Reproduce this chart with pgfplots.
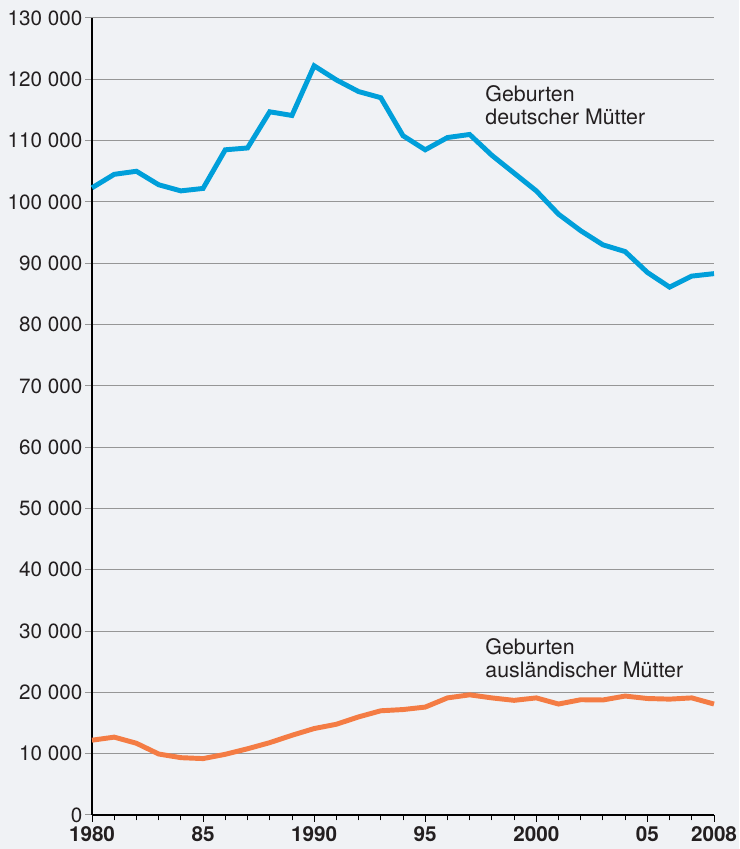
\documentclass[border=0pt]{standalone}
\usepackage{fontspec}
\setmainfont{TeX Gyre Heros}
\usepackage{pgfplots}
\pgfplotsset{compat=1.18}

\begin{document}
\begin{tikzpicture}

\definecolor{bgcol}{RGB}{240,242,245}
\definecolor{gridgray}{RGB}{150,150,150}
\definecolor{txt}{RGB}{35,31,32}
\definecolor{lineblue}{RGB}{0,159,218}
\definecolor{lineorange}{RGB}{244,124,68}

\path[fill=bgcol, use as bounding box] (0,0) rectangle (554.25pt,636.75pt);

\begin{axis}[
at={(69pt,25.5pt)}, anchor=south west,
width=466.5pt, height=597.75pt, scale only axis,
xmin=1980, xmax=2008,
ymin=0, ymax=130000,
axis x line*=bottom,
axis y line*=left,
axis line style={black, line width=0.8pt},
tick align=outside,
major tick length=5pt,
minor tick length=4pt,
xtick={1980,1985,1990,1995,2000,2005,2008},
xticklabels={1980,85,1990,95,2000,05,2008},
minor xtick={1980,...,2008},
xtick style={black, line width=0.6pt},
minor x tick style={black, line width=0.6pt},
xticklabel style={font=\fontsize{15.5pt}{18pt}\selectfont\bfseries, text=txt},
ytick={0,10000,...,130000},
yticklabels={0,10 000,20 000,30 000,40 000,50 000,60 000,70 000,80 000,90 000,100 000,110 000,120 000,130 000},
yticklabel style={font=\fontsize{15.5pt}{18pt}\selectfont, text=txt, inner xsep=2pt, inner ysep=1pt},
ytick style={gridgray, line width=0.75pt},
ymajorgrids,
grid style={gridgray, line width=0.75pt},
clip=false
]
\addplot [lineblue, line width=3.7pt]
coordinates {
(1980,102300) (1981,104500) (1982,105000) (1983,102800) (1984,101800)
(1985,102200) (1986,108500) (1987,108800) (1988,114700) (1989,114100)
(1990,122200) (1991,119900) (1992,118000) (1993,117000) (1994,110800)
(1995,108500) (1996,110500) (1997,111000) (1998,107600) (1999,104700)
(2000,101800) (2001,98000) (2002,95300) (2003,93000) (2004,91900)
(2005,88500) (2006,86100) (2007,87900) (2008,88300)
};
\addplot [lineorange, line width=3.7pt]
coordinates {
(1980,12200) (1981,12700) (1982,11700) (1983,9950) (1984,9350)
(1985,9200) (1986,9900) (1987,10800) (1988,11800) (1989,13000)
(1990,14100) (1991,14800) (1992,16000) (1993,17000) (1994,17200)
(1995,17600) (1996,19100) (1997,19600) (1998,19100) (1999,18700)
(2000,19100) (2001,18100) (2002,18800) (2003,18760) (2004,19400)
(2005,19000) (2006,18900) (2007,19100) (2008,18100)
};
\node[anchor=north west, align=left, inner sep=0pt, text=txt,
  font=\fontsize{16pt}{17pt}\selectfont]
  at (axis cs:1997.7,119000) {Geburten\\deutscher Mütter};
\node[anchor=north west, align=left, inner sep=0pt, text=txt,
  font=\fontsize{16pt}{17pt}\selectfont]
  at (axis cs:1997.7,28800) {Geburten\\ausländischer Mütter};
\end{axis}

\end{tikzpicture}
\end{document}
